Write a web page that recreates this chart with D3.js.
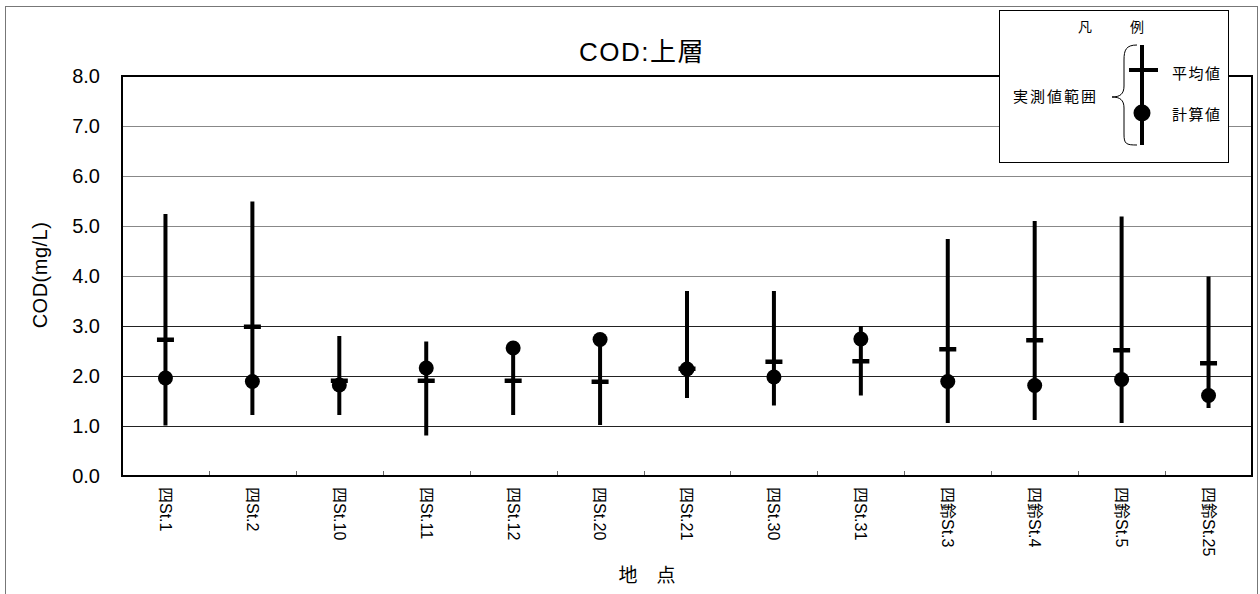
<!DOCTYPE html>
<html>
<head>
<meta charset="utf-8">
<script src="https://cdn.jsdelivr.net/npm/d3@7"></script>
<style>
  body { margin: 0; background: #fff; }
  svg { display: block; font-family: "Liberation Sans", Arial, "Noto Sans CJK JP", sans-serif; }
</style>
</head>
<body>
<svg id="chart"></svg>
<script>
// stations along the x axis
var stations = ['四St.1', '四St.2', '四St.10', '四St.11', '四St.12', '四St.20', '四St.21',
    '四St.30', '四St.31', '四鈴St.3', '四鈴St.4', '四鈴St.5', '四鈴St.25'];

// observed range (min / max), observed mean, computed value  (mg/L)
var obsMin  = [1.01, 1.22, 1.22, 0.81, 1.22, 1.02, 1.56, 1.41, 1.61, 1.06, 1.12, 1.06, 1.36];
var obsMax  = [5.24, 5.49, 2.80, 2.69, 2.56, 2.73, 3.70, 3.70, 3.00, 4.74, 5.10, 5.19, 3.99];
var obsMean = [2.73, 2.99, 1.91, 1.91, 1.91, 1.89, 2.15, 2.29, 2.30, 2.54, 2.72, 2.52, 2.26];
var calc    = [1.96, 1.89, 1.82, 2.16, 2.56, 2.73, 2.14, 1.98, 2.74, 1.89, 1.81, 1.93, 1.61];

var yTicks = [0, 1, 2, 3, 4, 5, 6, 7, 8];

var width = 1260, height = 594;
var plot = {left: 122, right: 1252, top: 76, bottom: 476};

var svg = d3.select('#chart')
    .attr('width', width)
    .attr('height', height);

// outer frame
svg.append('rect')
    .attr('x', 5.5).attr('y', 6.5)
    .attr('width', 1252).attr('height', 600)
    .attr('fill', 'none')
    .attr('stroke', '#777')
    .attr('stroke-width', 1);

var x = d3.scaleBand()
    .domain(stations)
    .range([plot.left, plot.right]);

var y = d3.scaleLinear()
    .domain([0, 8])
    .range([plot.bottom, plot.top]);

// gridlines
svg.append('g')
    .selectAll('line')
    .data(yTicks.filter(function(d) { return d > 0 && d < 8; }))
    .join('line')
    .attr('x1', plot.left).attr('x2', plot.right)
    .attr('y1', function(d) { return Math.round(y(d)) + 0.5; })
    .attr('y2', function(d) { return Math.round(y(d)) + 0.5; })
    .attr('stroke', function(d) { return d >= 4 ? '#888' : '#222'; })
    .attr('stroke-width', 1);

// x ticks (inward, at band boundaries)
svg.append('g')
    .selectAll('line')
    .data(stations.slice(1))
    .join('line')
    .attr('x1', function(d) { return Math.round(x(d)) + 0.5; })
    .attr('x2', function(d) { return Math.round(x(d)) + 0.5; })
    .attr('y1', plot.bottom)
    .attr('y2', plot.bottom - 5)
    .attr('stroke', '#666');

// plot frame
svg.append('rect')
    .attr('x', plot.left).attr('y', plot.top)
    .attr('width', plot.right - plot.left)
    .attr('height', plot.bottom - plot.top)
    .attr('fill', 'none')
    .attr('stroke', '#000')
    .attr('stroke-width', 2);

// y tick labels
svg.append('g')
    .selectAll('text')
    .data(yTicks)
    .join('text')
    .attr('x', 100)
    .attr('y', function(d) { return y(d); })
    .attr('dy', '0.36em')
    .attr('text-anchor', 'end')
    .attr('font-size', 20)
    .text(function(d) { return d.toFixed(1); });

// x labels, rotated
svg.append('g')
    .selectAll('text')
    .data(stations)
    .join('text')
    .attr('transform', function(d) {
        return 'translate(' + (x(d) + x.bandwidth() / 2) + ',487) rotate(90)';
    })
    .attr('dy', '0.35em')
    .attr('text-anchor', 'start')
    .attr('font-size', 16)
    .text(function(d) { return d; });

// axis titles
svg.append('text')
    .attr('transform', 'translate(40,275) rotate(-90)')
    .attr('dy', '0.35em')
    .attr('text-anchor', 'middle')
    .attr('font-size', 20)
    .attr('letter-spacing', 0.5)
    .text('COD(mg/L)');

svg.append('text')
    .attr('x', 647).attr('y', 582)
    .attr('text-anchor', 'middle')
    .attr('font-size', 19)
    .text('地　点');

svg.append('text')
    .attr('x', 642).attr('y', 61)
    .attr('text-anchor', 'middle')
    .attr('font-size', 26)
    .attr('letter-spacing', 1.5)
    .text('COD:上層');

// marks
var marks = svg.append('g')
    .selectAll('g')
    .data(stations.map(function(s, i) {
        return {name: s, min: obsMin[i], max: obsMax[i], mean: obsMean[i], calc: calc[i]};
    }))
    .join('g')
    .attr('transform', function(d) { return 'translate(' + (x(d.name) + x.bandwidth() / 2) + ',0)'; });

marks.append('line')
    .attr('y1', function(d) { return y(d.min); })
    .attr('y2', function(d) { return y(d.max); })
    .attr('stroke', '#000')
    .attr('stroke-width', 4);

marks.append('rect')
    .attr('x', -8.5)
    .attr('y', function(d) { return y(d.mean) - 2; })
    .attr('width', 17)
    .attr('height', 4.5)
    .attr('fill', '#000');

marks.append('circle')
    .attr('cy', function(d) { return y(d.calc); })
    .attr('r', 7.5)
    .attr('fill', '#000');

// legend
var legend = svg.append('g');
legend.append('rect')
    .attr('x', 999.5).attr('y', 10.5)
    .attr('width', 229).attr('height', 152)
    .attr('fill', '#fff')
    .attr('stroke', '#000');

legend.append('text')
    .attr('x', 1085).attr('y', 27).attr('dy', '0.35em')
    .attr('text-anchor', 'middle').attr('font-size', 14)
    .text('凡');
legend.append('text')
    .attr('x', 1137).attr('y', 27).attr('dy', '0.35em')
    .attr('text-anchor', 'middle').attr('font-size', 14)
    .text('例');

legend.append('line')
    .attr('x1', 1142).attr('x2', 1142)
    .attr('y1', 45).attr('y2', 145)
    .attr('stroke', '#000').attr('stroke-width', 4);
legend.append('rect')
    .attr('x', 1129).attr('y', 68)
    .attr('width', 29).attr('height', 4)
    .attr('fill', '#000');
legend.append('circle')
    .attr('cx', 1142).attr('cy', 113)
    .attr('r', 8.5)
    .attr('fill', '#000');

// curly brace
legend.append('path')
    .attr('d', 'M1137,45 C1126,45 1124,50 1124,60 L1124,86 C1124,94 1120,97 1112,97 ' +
        'C1120,97 1124,100 1124,108 L1124,134 C1124,144 1126,145 1137,145')
    .attr('fill', 'none')
    .attr('stroke', '#000')
    .attr('stroke-width', 1);

legend.append('text')
    .attr('x', 1172).attr('y', 74).attr('dy', '0.35em')
    .attr('font-size', 15).attr('letter-spacing', 1.5)
    .text('平均値');
legend.append('text')
    .attr('x', 1172).attr('y', 115).attr('dy', '0.35em')
    .attr('font-size', 15).attr('letter-spacing', 1.5)
    .text('計算値');
legend.append('text')
    .attr('x', 1013).attr('y', 97).attr('dy', '0.35em')
    .attr('font-size', 15).attr('letter-spacing', 2)
    .text('実測値範囲');
</script>
</body>
</html>
